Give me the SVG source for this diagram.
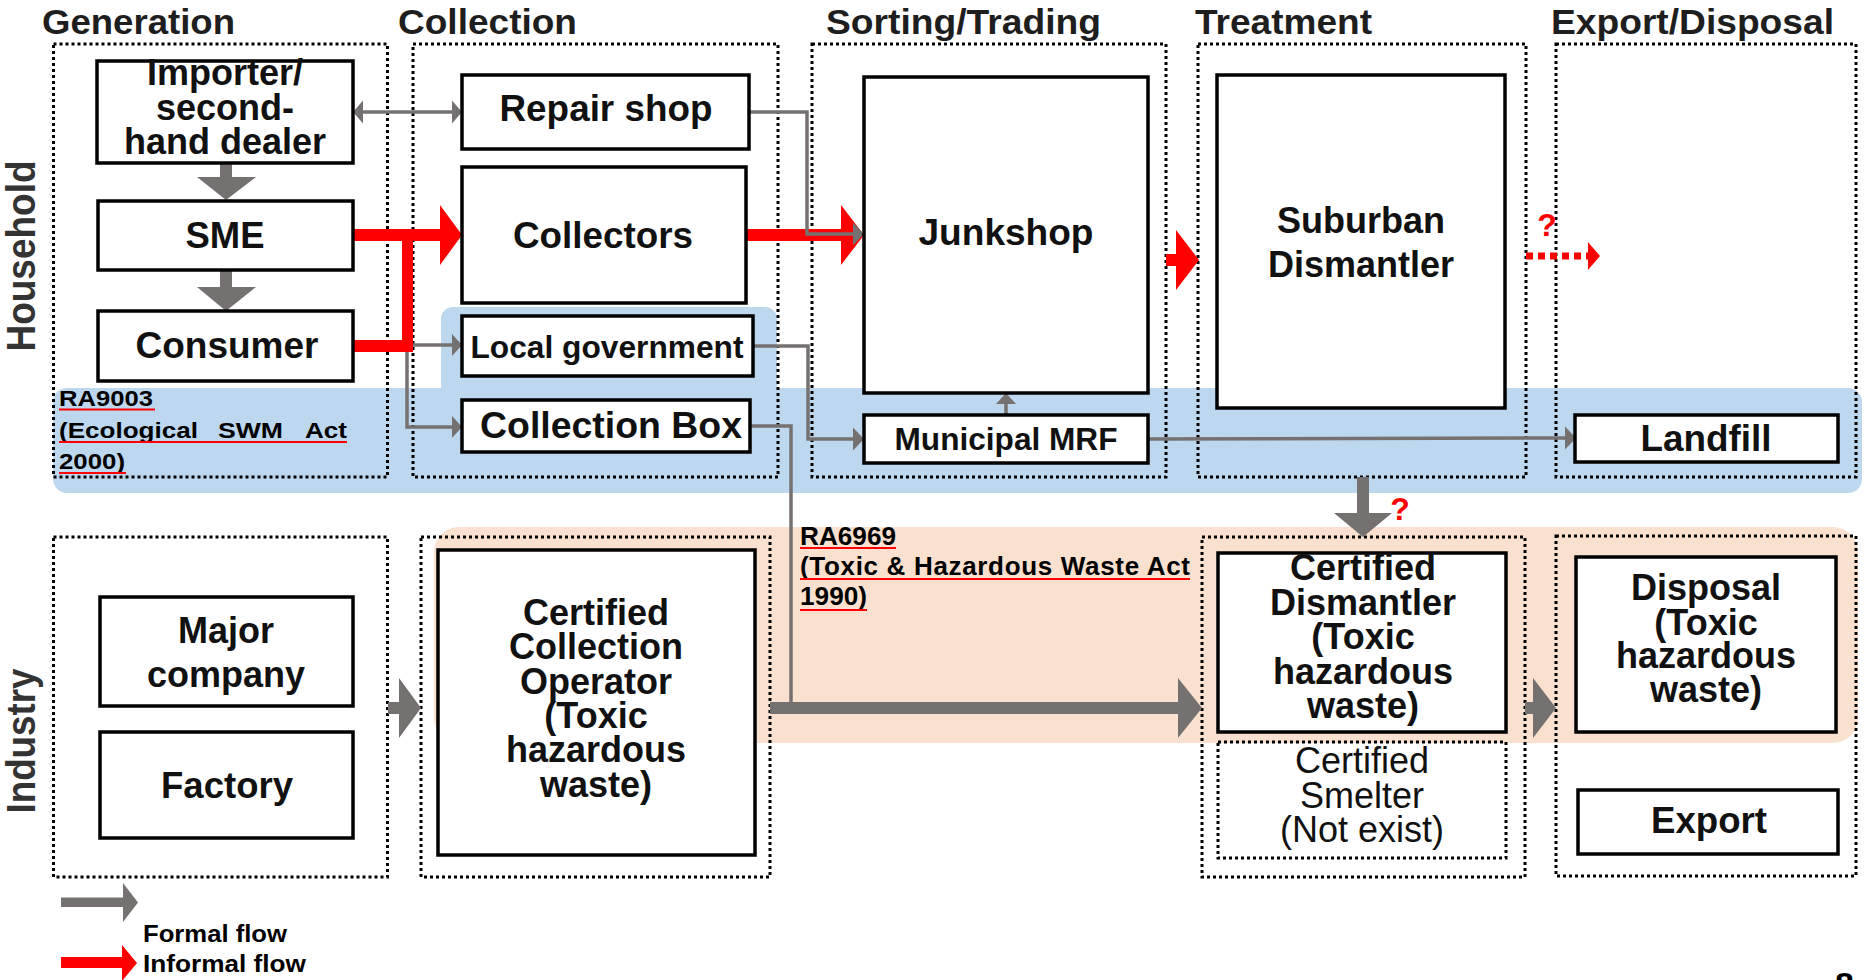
<svg xmlns="http://www.w3.org/2000/svg" width="1864" height="980" viewBox="0 0 1864 980">
<style>
.dot{fill:none;stroke:#000;stroke-width:3;stroke-dasharray:3 3}
.box{fill:#fff;stroke:#000;stroke-width:3.5}
.sbox{fill:none;stroke:#000;stroke-width:3;stroke-dasharray:3 3}
text{font-family:"Liberation Sans",Arial,Helvetica,sans-serif}
.t{font-weight:bold;font-size:36px;text-anchor:middle;fill:#111}
.n{font-weight:normal;font-size:36px;text-anchor:middle;fill:#111}
.h{font-weight:bold;font-size:35px;fill:#1e1e1e}
.row{font-weight:bold;font-size:40px;text-anchor:middle;fill:#333}
.ra{font-weight:bold;fill:#000}
.q{font-weight:bold;font-size:32px;text-anchor:middle;fill:#ff0000}
.ul{stroke:#ff0000;stroke-width:2}
.gl{fill:none;stroke:#767171;stroke-width:3.5}
.ga{fill:#767171}
.rd{fill:#ff0000}
</style>

<!-- regulation bands -->
<g id="bands">
  <rect x="441" y="307" width="336" height="92" rx="12" fill="#bdd7ee"/>
  <rect x="53" y="388" width="1809" height="105" rx="14" fill="#bdd7ee"/>
  <rect x="434" y="527" width="1424" height="216" rx="25" fill="#fae0ce"/>
</g>

<!-- column titles and row labels -->
<g id="titles">
  <text class="h" x="42" y="34" textLength="193" lengthAdjust="spacingAndGlyphs">Generation</text>
  <text class="h" x="398" y="34" textLength="179" lengthAdjust="spacingAndGlyphs">Collection</text>
  <text class="h" x="826" y="34" textLength="275" lengthAdjust="spacingAndGlyphs">Sorting/Trading</text>
  <text class="h" x="1195" y="34" textLength="177" lengthAdjust="spacingAndGlyphs">Treatment</text>
  <text class="h" x="1551" y="34" textLength="283" lengthAdjust="spacingAndGlyphs">Export/Disposal</text>
  <text class="row" transform="translate(35,256) rotate(-90)" textLength="191" lengthAdjust="spacingAndGlyphs">Household</text>
  <text class="row" transform="translate(35,741) rotate(-90)" textLength="145" lengthAdjust="spacingAndGlyphs">Industry</text>
</g>

<!-- dotted stage containers -->
<g id="containers">
  <rect class="dot" x="53.5" y="44" width="334" height="433"/>
  <rect class="dot" x="413" y="44" width="365" height="433"/>
  <rect class="dot" x="812" y="44" width="354" height="433"/>
  <rect class="dot" x="1198" y="44" width="328" height="433"/>
  <rect class="dot" x="1556" y="44" width="300" height="433"/>
  <rect class="dot" x="53.5" y="537" width="334" height="340"/>
  <rect class="dot" x="421" y="537" width="349" height="340"/>
  <rect class="dot" x="1202" y="537" width="323" height="340"/>
  <rect class="dot" x="1556" y="536" width="300" height="340"/>
</g>

<!-- law annotations -->
<g id="ra9003">
  <text class="ra" x="59" y="406" font-size="22" textLength="94" lengthAdjust="spacingAndGlyphs">RA9003</text>
  <text class="ra" x="59" y="438" font-size="22" textLength="139" lengthAdjust="spacingAndGlyphs">(Ecological</text>
  <text class="ra" x="218" y="438" font-size="22" textLength="65" lengthAdjust="spacingAndGlyphs">SWM</text>
  <text class="ra" x="305" y="438" font-size="22" textLength="42" lengthAdjust="spacingAndGlyphs">Act</text>
  <text class="ra" x="59" y="469" font-size="22" textLength="66" lengthAdjust="spacingAndGlyphs">2000)</text>
  <line class="ul" x1="59" y1="409.5" x2="155" y2="409.5"/>
  <line class="ul" x1="59" y1="442" x2="347" y2="442"/>
  <line class="ul" x1="59" y1="473" x2="126" y2="473"/>
</g>
<g id="ra6969">
  <text class="ra" x="800" y="545" font-size="26" textLength="96" lengthAdjust="spacingAndGlyphs">RA6969</text>
  <text class="ra" x="800" y="575" font-size="26" textLength="390">(Toxic &amp; Hazardous Waste Act</text>
  <text class="ra" x="800" y="605" font-size="26" textLength="67" lengthAdjust="spacingAndGlyphs">1990)</text>
  <line class="ul" x1="800" y1="548" x2="896" y2="548"/>
  <line class="ul" x1="800" y1="579" x2="1190" y2="579"/>
  <line class="ul" x1="800" y1="610" x2="867" y2="610"/>
</g>

<!-- connectors -->
<g id="connectors">
  <path class="ga" d="M220,163 H232 V177 H256 L226,200 L197,177 H220 Z"/>
  <path class="ga" d="M220,270 H232 V287 H256 L226,311 L197,287 H220 Z"/>
  <line class="gl" x1="360" y1="112" x2="455" y2="112"/>
  <path class="ga" d="M353,112 L363,100.5 L363,123.5 Z"/>
  <path class="ga" d="M462,112 L452,100.5 L452,123.5 Z"/>
  <path class="rd" d="M353,229 H440 V205 L462,235 L440,265 V241 H413 V352 H353 V340 H402 V241 H353 Z"/>
  <path class="rd" d="M746,229 H841 V205 L864,235 L841,265 V241 H746 Z"/>
  <polyline class="gl" points="749,112 807,112 807,234 855,234"/>
  <path class="ga" d="M864,234 L853,222.5 L853,245.5 Z"/>
  <line class="gl" x1="413" y1="345" x2="454" y2="345"/>
  <path class="ga" d="M462,345 L452,334 L452,356 Z"/>
  <polyline class="gl" points="407,352 407,427 454,427"/>
  <path class="ga" d="M462,427 L452,416 L452,438 Z"/>
  <polyline class="gl" points="753,346 808,346 808,439 855,439"/>
  <path class="ga" d="M864,439 L853,427.5 L853,450.5 Z"/>
  <polyline class="gl" points="750,426 791,426 791,706"/>
  <path class="ga" d="M770,702 H1178 V678 L1202,708 L1178,738 V714 H770 Z"/>
  <line class="gl" x1="1006" y1="415" x2="1006" y2="400"/>
  <path class="ga" d="M1006,393 L996,404 L1016,404 Z"/>
  <line class="gl" x1="1148" y1="439" x2="1567" y2="438"/>
  <path class="ga" d="M1576,438 L1565,426.5 L1565,449.5 Z"/>
  <path class="rd" d="M1166,254 H1176 V230 L1199,260 L1176,290 V266 H1166 Z"/>
  <line x1="1526" y1="256" x2="1589" y2="256" stroke="#ff0000" stroke-width="7" stroke-dasharray="7 5"/>
  <path class="rd" d="M1600,256 L1588,242 L1588,270 Z"/>
  <text class="q" x="1547" y="236">?</text>
  <path class="ga" d="M1357,477 H1369 V513 H1392 L1363,537 L1334,513 H1357 Z"/>
  <text class="q" x="1400" y="520">?</text>
  <path class="ga" d="M388,702 H399 V678 L421,708 L399,738 V714 H388 Z"/>
  <path class="ga" d="M1525,702 H1533 V678 L1556,708 L1533,738 V714 H1525 Z"/>
</g>

<!-- household nodes -->
<g id="importer">
  <rect class="box" x="97" y="61" width="256" height="102"/>
  <text class="t" x="225" y="85">Importer/</text>
  <text class="t" x="225" y="120">second-</text>
  <text class="t" x="225" y="154">hand dealer</text>
</g>
<g id="sme">
  <rect class="box" x="98" y="201" width="255" height="69"/>
  <text class="t" x="225" y="248" textLength="79" lengthAdjust="spacingAndGlyphs">SME</text>
</g>
<g id="consumer">
  <rect class="box" x="98" y="311" width="255" height="70"/>
  <text class="t" x="227" y="358" textLength="183" lengthAdjust="spacingAndGlyphs">Consumer</text>
</g>
<g id="repair-shop">
  <rect class="box" x="462" y="75" width="287" height="74"/>
  <text class="t" x="606" y="121" textLength="213" lengthAdjust="spacingAndGlyphs">Repair shop</text>
</g>
<g id="collectors">
  <rect class="box" x="462" y="167" width="284" height="136"/>
  <text class="t" x="603" y="248" textLength="180" lengthAdjust="spacingAndGlyphs">Collectors</text>
</g>
<g id="local-government">
  <rect class="box" x="462" y="316" width="291" height="60"/>
  <text class="t" x="607" y="358" style="font-size:32px" textLength="273" lengthAdjust="spacingAndGlyphs">Local government</text>
</g>
<g id="collection-box">
  <rect class="box" x="462" y="400" width="288" height="52"/>
  <text class="t" x="611" y="438" textLength="262" lengthAdjust="spacingAndGlyphs">Collection Box</text>
</g>
<g id="junkshop">
  <rect class="box" x="864" y="77" width="284" height="316"/>
  <text class="t" x="1006" y="245" textLength="175" lengthAdjust="spacingAndGlyphs">Junkshop</text>
</g>
<g id="municipal-mrf">
  <rect class="box" x="864" y="415" width="284" height="48"/>
  <text class="t" x="1006" y="450" style="font-size:31px" textLength="223" lengthAdjust="spacingAndGlyphs">Municipal MRF</text>
</g>
<g id="suburban-dismantler">
  <rect class="box" x="1217" y="75" width="288" height="333"/>
  <text class="t" x="1361" y="233">Suburban</text>
  <text class="t" x="1361" y="277">Dismantler</text>
</g>
<g id="landfill">
  <rect class="box" x="1575" y="415" width="263" height="47"/>
  <text class="t" x="1706" y="451" textLength="131" lengthAdjust="spacingAndGlyphs">Landfill</text>
</g>

<!-- industry nodes -->
<g id="major-company">
  <rect class="box" x="100" y="597" width="253" height="109"/>
  <text class="t" x="226" y="643">Major</text>
  <text class="t" x="226" y="687">company</text>
</g>
<g id="factory">
  <rect class="box" x="100" y="732" width="253" height="106"/>
  <text class="t" x="227" y="798" textLength="132" lengthAdjust="spacingAndGlyphs">Factory</text>
</g>
<g id="certified-collection-operator">
  <rect class="box" x="438" y="550" width="317" height="305"/>
  <text class="t" x="596" y="625">Certified</text>
  <text class="t" x="596" y="659">Collection</text>
  <text class="t" x="596" y="694">Operator</text>
  <text class="t" x="596" y="728">(Toxic</text>
  <text class="t" x="596" y="762">hazardous</text>
  <text class="t" x="596" y="797">waste)</text>
</g>
<g id="certified-dismantler">
  <rect class="box" x="1218" y="553" width="288" height="179"/>
  <text class="t" x="1363" y="580">Certified</text>
  <text class="t" x="1363" y="615">Dismantler</text>
  <text class="t" x="1363" y="649">(Toxic</text>
  <text class="t" x="1363" y="684">hazardous</text>
  <text class="t" x="1363" y="718">waste)</text>
</g>
<g id="certified-smelter">
  <rect class="sbox" x="1218" y="742" width="288" height="116"/>
  <text class="n" x="1362" y="773">Certified</text>
  <text class="n" x="1362" y="808">Smelter</text>
  <text class="n" x="1362" y="842">(Not exist)</text>
</g>
<g id="disposal">
  <rect class="box" x="1576" y="557" width="260" height="175"/>
  <text class="t" x="1706" y="600">Disposal</text>
  <text class="t" x="1706" y="635">(Toxic</text>
  <text class="t" x="1706" y="668">hazardous</text>
  <text class="t" x="1706" y="702">waste)</text>
</g>
<g id="export">
  <rect class="box" x="1578" y="790" width="260" height="64"/>
  <text class="t" x="1709" y="833" textLength="116" lengthAdjust="spacingAndGlyphs">Export</text>
</g>

<!-- legend -->
<g id="legend">
  <path class="ga" d="M61,897.5 H123 V883 L138,902.5 L123,922 V907 H61 Z"/>
  <text class="ra" x="143" y="942" font-size="23" textLength="144" lengthAdjust="spacingAndGlyphs">Formal flow</text>
  <path class="rd" d="M61,957 H122 V945 L137,963 L122,981 V968 H61 Z"/>
  <text class="ra" x="143" y="972" font-size="23" textLength="163" lengthAdjust="spacingAndGlyphs">Informal flow</text>
</g>
<text x="1835" y="996" font-size="34" fill="#000" style="font-weight:bold">8</text>
</svg>
